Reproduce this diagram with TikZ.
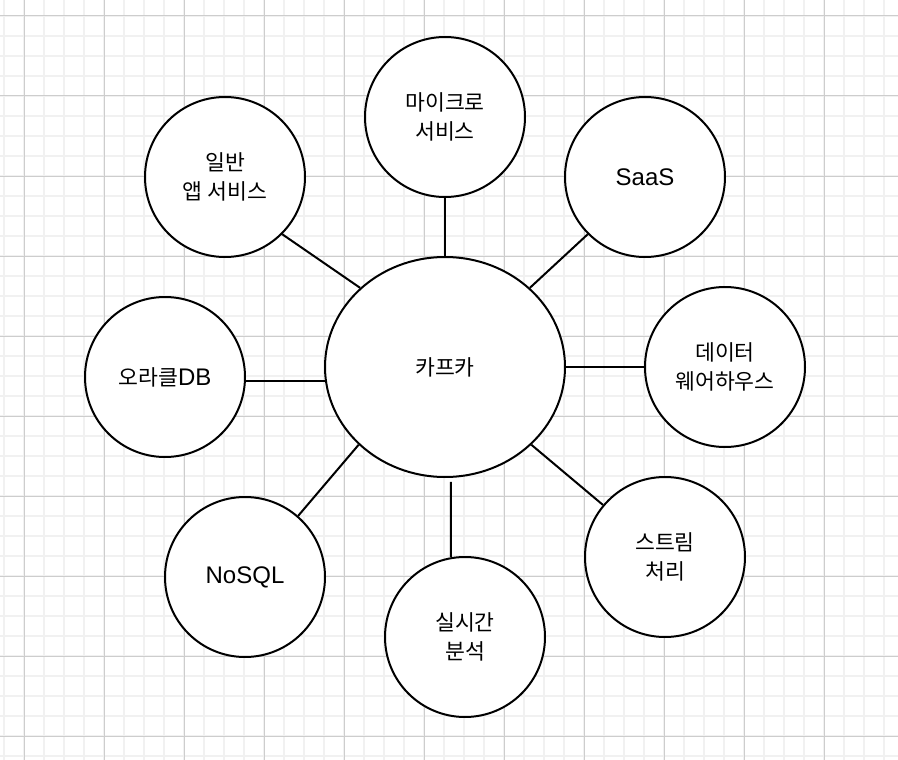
\documentclass[tikz,border=0pt]{standalone}
\usepackage{fontspec}
\setmainfont{Liberation Sans}
\newfontfamily\krfont{Noto Sans CJK KR}[Scale=0.9]
\usetikzlibrary{shapes.geometric}

\definecolor{gridminor}{HTML}{F1F1F1}
\definecolor{gridmajor}{HTML}{CDCDCD}

\tikzset{
    sys/.style={draw, circle, line width=2pt, minimum size=160pt, inner sep=0pt,
        fill=white, align=center, font=\fontsize{24}{29}\selectfont},
    hub/.style={draw, ellipse, line width=2pt, minimum width=240pt, minimum height=220pt,
        inner sep=0pt, fill=white, font=\fontsize{24}{29}\selectfont},
    link/.style={line width=2pt},
    minorline/.style={draw=gridminor, line width=2pt},
    majorline/.style={draw=gridmajor, line width=1pt}
}

\begin{document}
\begin{tikzpicture}[x=1pt, y=-1pt]
            \useasboundingbox (0,0) rectangle (898,760);
            \fill[white] (0,0) rectangle (898,760);

            % background grid
            \foreach \x in {4,24,...,898} \draw[minorline] (\x,0) -- (\x,760);
            \foreach \y in {16,36,...,760} \draw[minorline] (0,\y) -- (898,\y);
            \foreach \x in {24,104,...,898} \draw[majorline] (\x,0) -- (\x,760);
            \foreach \y in {16,96,...,760} \draw[majorline] (0,\y) -- (898,\y);

            \node[hub] (kafka) at (445,367) {\krfont 카프카};

            \node[sys] (micro) at (445,117) {\krfont 마이크로\\\krfont 서비스};
            \node[sys] (app) at (225,177) {\krfont 일반\\\krfont 앱 서비스};
            \node[sys] (saas) at (645,177) {SaaS};
            \node[sys] (dw) at (725,367) {\krfont 데이터\\\krfont 웨어하우스};
            \node[sys] (oracle) at (165,377) {{\krfont 오라클}DB};
            \node[sys] (nosql) at (245,577) {NoSQL};
            \node[sys] (rt) at (465,637) {\krfont 실시간\\\krfont 분석};
            \node[sys] (stream) at (665,557) {\krfont 스트림\\\krfont 처리};

            \draw[link] (kafka.north) -- (micro.south);
            \draw[link] (kafka.137) -- (app.-45);
            \draw[link] (kafka.43) -- (saas.225);
            \draw[link] (kafka.east) -- (dw.west);
            \draw[link] (oracle.-3) -- (oracle.-3 -| kafka.186.7);
            \draw[link] (kafka.222) -- (nosql.49.5);
            \draw[link, shorten <=4pt] (kafka.-87) -- (rt.100);
            \draw[link] (kafka.-42.5) -- (stream.140);
        \end{tikzpicture}
\end{document}
